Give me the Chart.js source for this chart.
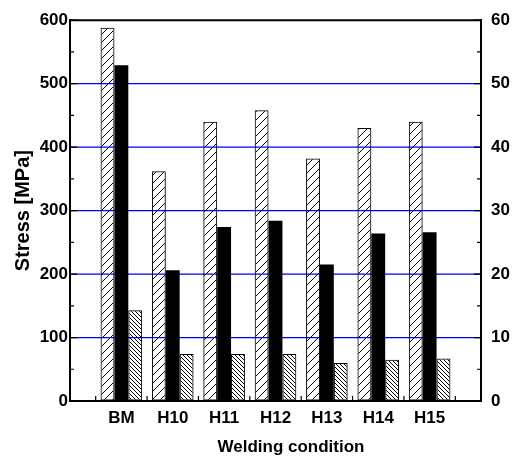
<!DOCTYPE html>
<html><head><meta charset="utf-8">
<script src="https://cdn.jsdelivr.net/npm/chart.js@4/dist/chart.umd.min.js"></script>
<style>html,body{margin:0;padding:0;background:#fff;} #wrap{width:520px;height:461px;}</style>
</head><body><div id="wrap"><canvas id="c" width="520" height="461"></canvas></div>
<script>
// ---- data ----
const categories = ['BM', 'H10', 'H11', 'H12', 'H13', 'H14', 'H15'];
const tensileStrength = [588, 362, 440, 458, 382, 430, 440];   // MPa (left axis)
const yieldStrength   = [529, 206, 274, 284, 215, 264, 266];   // MPa (left axis)
const elongation      = [14.3, 7.4, 7.4, 7.4, 6.0, 6.5, 6.7];  // % (right axis)
const stressTicks = [0, 100, 200, 300, 400, 500, 600];
const elongTicks  = [0, 10, 20, 30, 40, 50, 60];
const yTitle = 'Stress [MPa]';
const xTitle = 'Welding condition';

// half-category padding at both ends
const labels = ['', ...categories, ''];
const pad = a => [null, ...a, null];

const FONT = '"Liberation Sans", Arial, sans-serif';
const canvas = document.getElementById('c');
const mainCtx = canvas.getContext('2d');

function hatch(size, dir, lw) {
  const c = document.createElement('canvas');
  c.width = size; c.height = size;
  const g = c.getContext('2d');
  g.strokeStyle = '#000'; g.lineWidth = lw;
  g.beginPath();
  for (const o of [-size, 0, size]) {
    if (dir === '/') { g.moveTo(o, size); g.lineTo(o + size, 0); }
    else { g.moveTo(o, 0); g.lineTo(o + size, size); }
  }
  g.stroke();
  return mainCtx.createPattern(c, 'repeat');
}

const axisDecor = {
  id: 'axisDecor',
  beforeDatasetsDraw(chart) {
    const {ctx, chartArea: a, scales: {y}} = chart;
    ctx.save();
    ctx.strokeStyle = '#0000ff';
    ctx.lineWidth = 1.3;
    ctx.beginPath();
    for (const v of stressTicks.slice(1, -1)) {
      const py = y.getPixelForValue(v);
      ctx.moveTo(a.left, py); ctx.lineTo(a.right, py);
    }
    ctx.stroke();
    ctx.restore();
  },
  afterDatasetsDraw(chart) {
    const {ctx, chartArea: a, scales: {x, y, y1}} = chart;
    ctx.save();
    ctx.strokeStyle = '#000';
    // top frame line
    ctx.lineWidth = 2;
    ctx.beginPath();
    ctx.moveTo(a.left - 1, a.top); ctx.lineTo(a.right + 1, a.top);
    ctx.stroke();
    ctx.lineWidth = 1.2;
    ctx.beginPath();
    const yStep = (stressTicks[1] - stressTicks[0]) / 2;
    for (let v = y.min; v <= y.max; v += yStep) {
      const py = y.getPixelForValue(v);
      const len = (v % (yStep * 2) === 0) ? 7 : 4;
      ctx.moveTo(a.left, py); ctx.lineTo(a.left + len, py);
    }
    const y1Step = (elongTicks[1] - elongTicks[0]) / 2;
    for (let v = y1.min; v <= y1.max; v += y1Step) {
      const py = y1.getPixelForValue(v);
      const len = (v % (y1Step * 2) === 0) ? 7 : 4;
      ctx.moveTo(a.right, py); ctx.lineTo(a.right - len, py);
    }
    for (let i = 1; i < labels.length; i++) {
      const px = (x.getPixelForValue(i - 1) + x.getPixelForValue(i)) / 2;
      ctx.moveTo(px, a.bottom); ctx.lineTo(px, a.bottom - 5);
    }
    ctx.stroke();
    ctx.font = 'bold 17px ' + FONT;
    ctx.fillStyle = '#000';
    ctx.textAlign = 'center';
    ctx.textBaseline = 'middle';
    ctx.fillText(xTitle, (a.left + a.right) / 2 + 15.5, 447);
    ctx.restore();
  }
};

new Chart(canvas, {
  type: 'bar',
  data: {
    labels: labels,
    datasets: [
      { label: 'Tensile strength', data: pad(tensileStrength), yAxisID: 'y',
        backgroundColor: hatch(8, '/', 1), borderColor: '#000', borderWidth: 1, borderSkipped: false },
      { label: 'Yield strength', data: pad(yieldStrength), yAxisID: 'y',
        backgroundColor: '#000', borderColor: '#000', borderWidth: 0 },
      { label: 'Elongation', data: pad(elongation), yAxisID: 'y1',
        backgroundColor: hatch(4, '\\', 1), borderColor: '#000', borderWidth: 1, borderSkipped: false }
    ]
  },
  options: {
    responsive: false,
    animation: false,
    devicePixelRatio: 1,
    layout: { padding: { top: 19, left: 0, right: 0, bottom: 0 } },
    datasets: { bar: { categoryPercentage: 0.81, barPercentage: 1.0 } },
    plugins: { legend: { display: false }, tooltip: { enabled: false }, title: { display: false } },
    scales: {
      x: {
        type: 'category',
        offset: false,
        grid: { display: true, drawOnChartArea: false, drawTicks: false },
        border: { display: true, color: '#000', width: 2 },
        ticks: { color: '#000', font: { family: FONT, size: 17, weight: 'bold' }, padding: 7,
                 maxRotation: 0, autoSkip: false },
        afterFit: s => { s.height = 60; }
      },
      y: {
        position: 'left',
        min: stressTicks[0], max: stressTicks[stressTicks.length - 1],
        afterBuildTicks: s => { s.ticks = stressTicks.map(v => ({ value: v })); },
        grid: { display: true, drawOnChartArea: false, drawTicks: false },
        border: { display: true, color: '#000', width: 2 },
        ticks: { color: '#000', font: { family: FONT, size: 17, weight: 'bold' }, padding: 2 },
        title: { display: true, text: yTitle, color: '#000',
                 font: { family: FONT, size: 20, weight: 'bold' }, padding: { top: 11, bottom: 0 } },
        afterFit: s => { s.width = 70; }
      },
      y1: {
        position: 'right',
        min: elongTicks[0], max: elongTicks[elongTicks.length - 1],
        afterBuildTicks: s => { s.ticks = elongTicks.map(v => ({ value: v })); },
        grid: { display: true, drawOnChartArea: false, drawTicks: false },
        border: { display: true, color: '#000', width: 2 },
        ticks: { color: '#000', font: { family: FONT, size: 17, weight: 'bold' }, padding: 10 },
        afterFit: s => { s.width = 39; }
      }
    }
  },
  plugins: [axisDecor]
});
</script>
</body></html>
